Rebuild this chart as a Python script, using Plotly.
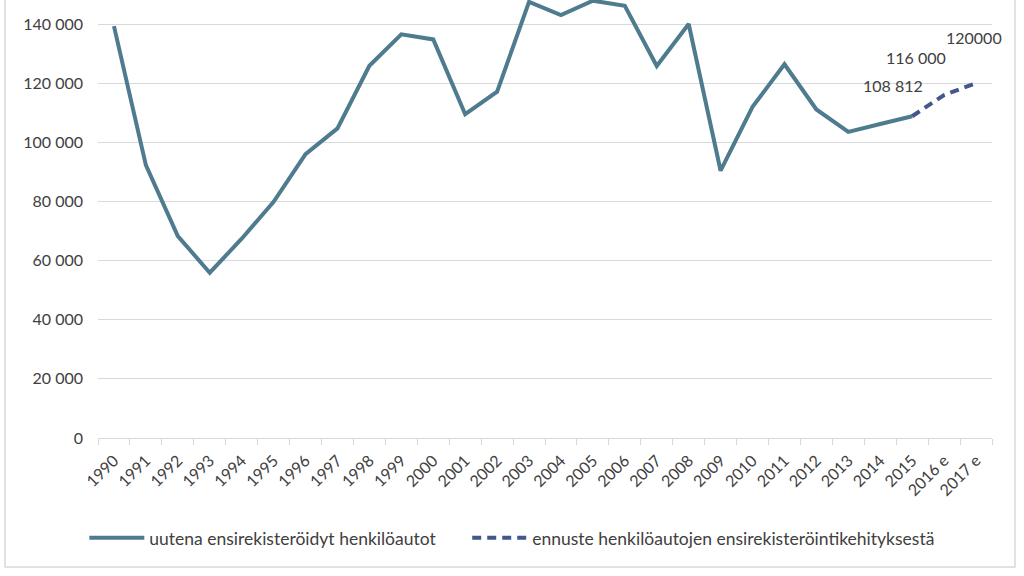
import plotly.graph_objects as go

years = ["1990", "1991", "1992", "1993", "1994", "1995", "1996", "1997", "1998", "1999",
         "2000", "2001", "2002", "2003", "2004", "2005", "2006", "2007", "2008", "2009",
         "2010", "2011", "2012", "2013", "2014", "2015", "2016 e", "2017 e"]
registered = [139300, 92300, 68300, 55900, 67400, 79900, 96000, 104700, 125900, 136500,
              134800, 109500, 117100, 147500, 143000, 147900, 146200, 125800, 140000, 90400,
              112000, 126400, 111100, 103500, 106200, 108812]
forecast_years = ["2015", "2016 e", "2017 e"]
forecast = [108812, 116000, 120000]
forecast_labels = ["108 812", "116 000", "120000"]
y_ticks = [0, 20000, 40000, 60000, 80000, 100000, 120000, 140000]

name_solid = "uutena ensirekisteröidyt henkilöautot"
name_dash = "ennuste henkilöautojen ensirekisteröintikehityksestä"

FONT = "Lato"
TXT = "#404040"

fig = go.Figure()
fig.add_trace(go.Scatter(
    x=years[:len(registered)], y=registered, mode="lines", name=name_solid,
    line=dict(color="#4F7B8F", width=4), legend="legend",
))
fig.add_trace(go.Scatter(
    x=forecast_years, y=forecast, mode="lines", name=name_dash,
    line=dict(color="#44578A", width=4, dash="9px,6px"), legend="legend2",
))

shifts = [(-19, 31), (-28, 38), (-2, 46)]
for xv, yv, t, (dx, dy) in zip(forecast_years, forecast, forecast_labels, shifts):
    fig.add_annotation(x=years.index(xv), y=yv, text=t, showarrow=False,
                       xshift=dx, yshift=dy,
                       font=dict(family=FONT, size=16, color=TXT))

# outer chart frame
fig.add_shape(type="rect", xref="paper", yref="paper",
              x0=(5 - 98) / 894, x1=(1015 - 98) / 894,
              y0=(438 - 567) / 438, y1=1.1,
              line=dict(color="#D9D9D9", width=1.5), layer="below")

legend_common = dict(orientation="h", xanchor="left", y=-0.228, yanchor="middle",
                     font=dict(family=FONT, size=17.5, color=TXT), itemwidth=55,
                     bgcolor="rgba(0,0,0,0)")

fig.update_layout(
    width=1024, height=576,
    margin=dict(l=98, r=32, t=0, b=138, autoexpand=False),
    paper_bgcolor="white", plot_bgcolor="white",
    separators=", ",
    font=dict(family=FONT, size=16, color=TXT),
    showlegend=True,
    legend=dict(x=-0.0153, **legend_common),
    legend2=dict(x=0.413, **legend_common),
    xaxis=dict(
        type="category", categoryorder="array", categoryarray=years,
        range=[-0.5, len(years) - 0.5],
        tickvals=years, ticktext=years,
        tickson="boundaries", ticks="outside", ticklen=6, tickcolor="#D9D9D9",
        showline=True, linecolor="#D9D9D9", linewidth=1,
        showgrid=False, tickangle=-45, automargin=False,
        ticklabelstandoff=6,
        tickfont=dict(family=FONT, size=16, color=TXT),
    ),
    yaxis=dict(
        range=[0, 148130], tickvals=y_ticks, tickformat=",d",
        showgrid=True, gridcolor="#D9D9D9", gridwidth=1,
        zeroline=False, showline=False, ticks="", automargin=False,
        ticklabelstandoff=14,
        tickfont=dict(family=FONT, size=16, color=TXT),
    ),
)

fig.write_html("out.html",
               config={"displayModeBar": False},
               post_script="document.body.style.margin='0';document.body.style.overflow='hidden';")
